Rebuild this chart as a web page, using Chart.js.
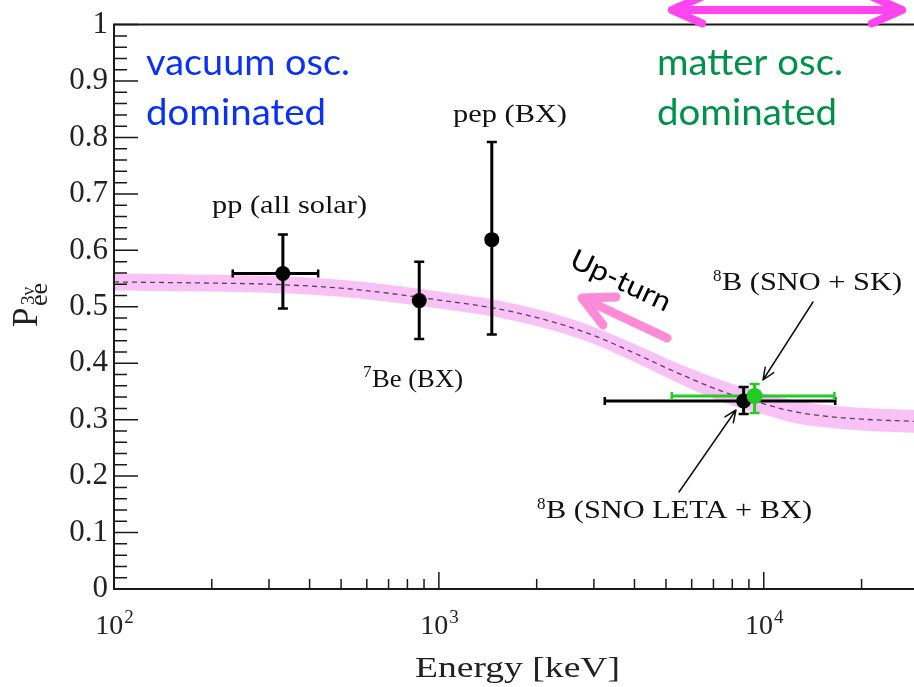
<!DOCTYPE html>
<html>
<head>
<meta charset="utf-8">
<script src="https://cdn.jsdelivr.net/npm/chart.js@4/dist/chart.umd.min.js"></script>
<style>
  html, body { margin: 0; padding: 0; background: #fff; }
  #wrap { width: 914px; height: 687px; }
</style>
</head>
<body>
<div id="wrap"><canvas id="pee" width="914" height="687"></canvas></div>
<script>
// MSW-LMA prediction band (energy in keV)
const bandE = [100, 200, 300, 500, 700, 1000, 1500, 2000, 2500, 3000, 4000, 5000, 6000, 7000, 8000, 10000, 12000, 15000, 20000, 29000];
const bandMid = [0.544, 0.542, 0.540, 0.533, 0.524, 0.512, 0.497, 0.481, 0.465, 0.449, 0.418, 0.392, 0.372, 0.356, 0.344, 0.328, 0.316, 0.307, 0.301, 0.297];
const bandHigh = [0.559, 0.557, 0.555, 0.548, 0.539, 0.527, 0.512, 0.496, 0.480, 0.464, 0.434, 0.409, 0.390, 0.375, 0.363, 0.347, 0.336, 0.327, 0.321, 0.317];
const bandLow = [0.529, 0.527, 0.525, 0.518, 0.509, 0.497, 0.482, 0.466, 0.450, 0.434, 0.402, 0.375, 0.354, 0.337, 0.325, 0.309, 0.296, 0.287, 0.281, 0.277];

// measurements: pp, 7Be, pep, 8B (SNO LETA + BX), 8B (SNO + SK)
const srcE = [331, 870, 1455, 8670, 9370];
const srcP = [0.559, 0.511, 0.619, 0.333, 0.342];
const srcPLo = [0.497, 0.443, 0.451, 0.310, 0.312];
const srcPHi = [0.628, 0.580, 0.792, 0.358, 0.363];
const srcELo = [232, 870, 1455, 3240, 5210];
const srcEHi = [425, 870, 1455, 16600, 16500];

const xTickExp = [2, 3, 4];

const SERIF = '"Liberation Serif", "Times New Roman", serif';
const SANS = 'Lato, "Open Sans", sans-serif';
const GREEN = "#22cc22";

const pts = (xs, ys) => xs.map((x, i) => ({ x: x, y: ys[i] }));

// text with optional horizontal fit to a width
function txt(ctx, s, x, y, size, family, color, width) {
  ctx.font = size + "px " + family;
  ctx.fillStyle = color;
  ctx.textAlign = "left";
  ctx.textBaseline = "alphabetic";
  const w = ctx.measureText(s).width;
  const sx = width ? width / w : 1;
  ctx.save();
  ctx.translate(x, y);
  ctx.scale(sx, 1);
  ctx.fillText(s, 0, 0);
  ctx.restore();
  return w * sx;
}

function arrow(ctx, x0, y0, x1, y1, color, lw, len, ang, both) {
  ctx.save();
  ctx.strokeStyle = color;
  ctx.lineWidth = lw;
  ctx.lineCap = "round";
  ctx.lineJoin = "round";
  ctx.beginPath();
  ctx.moveTo(x0, y0);
  ctx.lineTo(x1, y1);
  const head = (tx, ty, fx, fy) => {
    const a = Math.atan2(fy - ty, fx - tx);
    ctx.moveTo(tx + len * Math.cos(a - ang), ty + len * Math.sin(a - ang));
    ctx.lineTo(tx, ty);
    ctx.lineTo(tx + len * Math.cos(a + ang), ty + len * Math.sin(a + ang));
  };
  head(x1, y1, x0, y0);
  if (both) head(x0, y0, x1, y1);
  ctx.stroke();
  ctx.restore();
}

const errorBars = {
  id: "errorBars",
  afterDatasetDraw(chart, args) {
    if (args.index !== 2) return;
    const { ctx, scales: { x, y } } = chart;
    ctx.save();
    srcE.forEach((e, i) => {
      ctx.strokeStyle = i === 4 ? GREEN : "#000";
      const px = x.getPixelForValue(e), py = y.getPixelForValue(srcP[i]);
      const yl = y.getPixelForValue(srcPLo[i]), yh = y.getPixelForValue(srcPHi[i]);
      const xl = x.getPixelForValue(srcELo[i]), xh = x.getPixelForValue(srcEHi[i]);
      ctx.lineWidth = 3;
      ctx.beginPath();
      ctx.moveTo(px, yl); ctx.lineTo(px, yh);
      if (xh - xl > 1) { ctx.moveTo(xl, py); ctx.lineTo(xh, py); }
      ctx.stroke();
      ctx.lineWidth = 2.5;
      ctx.beginPath();
      ctx.moveTo(px - 5, yl); ctx.lineTo(px + 5, yl);
      ctx.moveTo(px - 5, yh); ctx.lineTo(px + 5, yh);
      if (xh - xl > 1) {
        ctx.moveTo(xl, py - 4); ctx.lineTo(xl, py + 4);
        ctx.moveTo(xh, py - 4); ctx.lineTo(xh, py + 4);
      }
      ctx.stroke();
    });
    ctx.restore();
  },
};

const decor = {
  id: "decor",
  afterDraw(chart) {
    const { ctx, chartArea: a, scales: { x, y } } = chart;
    ctx.save();
    // frame (right side is cut off in the original)
    ctx.strokeStyle = "#1a1a1a";
    ctx.lineWidth = 2;
    ctx.beginPath();
    ctx.moveTo(a.right, a.top); ctx.lineTo(a.left, a.top);
    ctx.lineTo(a.left, a.bottom); ctx.lineTo(a.right, a.bottom);
    ctx.stroke();

    // inner ticks
    ctx.lineWidth = 1.5;
    ctx.beginPath();
    for (let k = 0; k <= 50; k++) {
      const py = y.getPixelForValue(k * 0.02);
      ctx.moveTo(a.left, py);
      ctx.lineTo(a.left + (k % 5 === 0 ? 24 : 13), py);
    }
    for (const p of xTickExp) {
      for (let m = 1; m <= 9; m++) {
        const v = m * Math.pow(10, p);
        if (v > x.max) break;
        const px = x.getPixelForValue(v);
        ctx.moveTo(px, a.bottom);
        ctx.lineTo(px, a.bottom - (m === 1 ? 17 : 10));
      }
    }
    ctx.stroke();

    // x tick labels 10^n
    xTickExp.forEach((p) => {
      const px = x.getPixelForValue(Math.pow(10, p));
      ctx.font = "28px " + SERIF;
      const w1 = ctx.measureText("10").width;
      ctx.font = "19px " + SERIF;
      const w2 = ctx.measureText(String(p)).width;
      const x0 = px - (w1 + w2) / 2;
      txt(ctx, "10", x0, 634, 28, SERIF, "#222");
      txt(ctx, String(p), x0 + w1 + 1, 623, 19, SERIF, "#222");
    });

    // axis titles
    txt(ctx, "Energy [keV]", 415, 677, 30, SERIF, "#222", 205);
    ctx.save();
    ctx.translate(37, 327);
    ctx.rotate(-Math.PI / 2);
    txt(ctx, "P", 0, 0, 35, SERIF, "#222");
    txt(ctx, "ee", 21, 10, 26, SERIF, "#222");
    txt(ctx, "3\u03bd", 22, -3, 19, SERIF, "#222");
    ctx.restore();

    // region labels
    txt(ctx, "vacuum osc.", 146, 75, 37, SANS, "#0a32f5", 204);
    txt(ctx, "dominated", 146, 125, 37, SANS, "#0a32f5", 180);
    txt(ctx, "matter osc.", 657, 75, 37, SANS, "#00924a", 186);
    txt(ctx, "dominated", 657, 125, 37, SANS, "#00924a", 180);
    arrow(ctx, 672, 10, 902, 10, "#ff45ef", 8, 33, 0.42, true);

    // source labels
    txt(ctx, "pp (all solar)", 212, 213, 26, SERIF, "#111", 155);
    txt(ctx, "pep (BX)", 453, 122, 26, SERIF, "#111", 114);
    txt(ctx, "7", 363, 377, 17, SERIF, "#111");
    txt(ctx, "Be (BX)", 372, 387, 26, SERIF, "#111", 91);
    txt(ctx, "8", 713, 281, 17, SERIF, "#111");
    txt(ctx, "B (SNO + SK)", 722, 290, 26, SERIF, "#111", 180);
    txt(ctx, "8", 537, 509, 17, SERIF, "#111");
    txt(ctx, "B (SNO LETA + BX)", 546, 518, 26, SERIF, "#111", 266);
    arrow(ctx, 813, 302, 763, 380, "#111", 1.5, 13, 0.4);
    arrow(ctx, 679, 492, 736, 410, "#111", 1.5, 13, 0.4);

    // up-turn
    ctx.save();
    ctx.translate(568, 266);
    ctx.rotate(0.44);
    txt(ctx, "Up-turn", 0, 0, 28, SANS, "#000", 108);
    ctx.restore();
    arrow(ctx, 667, 338, 582, 298, "#ff8ad8", 9, 34, 0.47);
    ctx.restore();
  },
};

new Chart(document.getElementById("pee"), {
  type: "line",
  data: {
    datasets: [
      {
        data: pts(srcE.slice(4), srcP.slice(4)),
        showLine: false,
        pointRadius: 8,
        pointBackgroundColor: GREEN,
        pointBorderWidth: 0,
      },
      {
        data: pts(srcE.slice(0, 4), srcP.slice(0, 4)),
        showLine: false,
        pointRadius: 7.5,
        pointBackgroundColor: "#000",
        pointBorderWidth: 0,
      },
      {
        data: pts(bandE, bandMid),
        borderColor: "rgba(40,20,40,0.75)",
        borderWidth: 1.3,
        borderDash: [5, 4],
        pointRadius: 0,
        cubicInterpolationMode: "monotone",
      },
      {
        data: pts(bandE, bandHigh),
        borderWidth: 0,
        pointRadius: 0,
        backgroundColor: "#f9c2f6",
        fill: "+1",
        cubicInterpolationMode: "monotone",
      },
      {
        data: pts(bandE, bandLow),
        borderWidth: 0,
        pointRadius: 0,
        cubicInterpolationMode: "monotone",
      },
    ],
  },
  options: {
    responsive: false,
    animation: false,
    layout: { autoPadding: false, padding: { top: 22, right: 0, left: 0, bottom: 0 } },
    plugins: { legend: { display: false }, tooltip: { enabled: false } },
    scales: {
      x: {
        type: "logarithmic",
        min: 100,
        max: 29000,
        grid: { display: false },
        border: { display: false },
        ticks: { display: false },
        afterFit: (s) => { s.height = 98; },
      },
      y: {
        min: 0,
        max: 1,
        grid: { display: false, drawTicks: false },
        border: { display: false },
        ticks: {
          stepSize: 0.1,
          padding: 6,
          color: "#222",
          font: { family: SERIF, size: 31 },
          callback: (v) => String(+v.toFixed(1)),
        },
        afterFit: (s) => { s.width = 114; },
      },
    },
  },
  plugins: [errorBars, decor],
});
</script>
</body>
</html>
